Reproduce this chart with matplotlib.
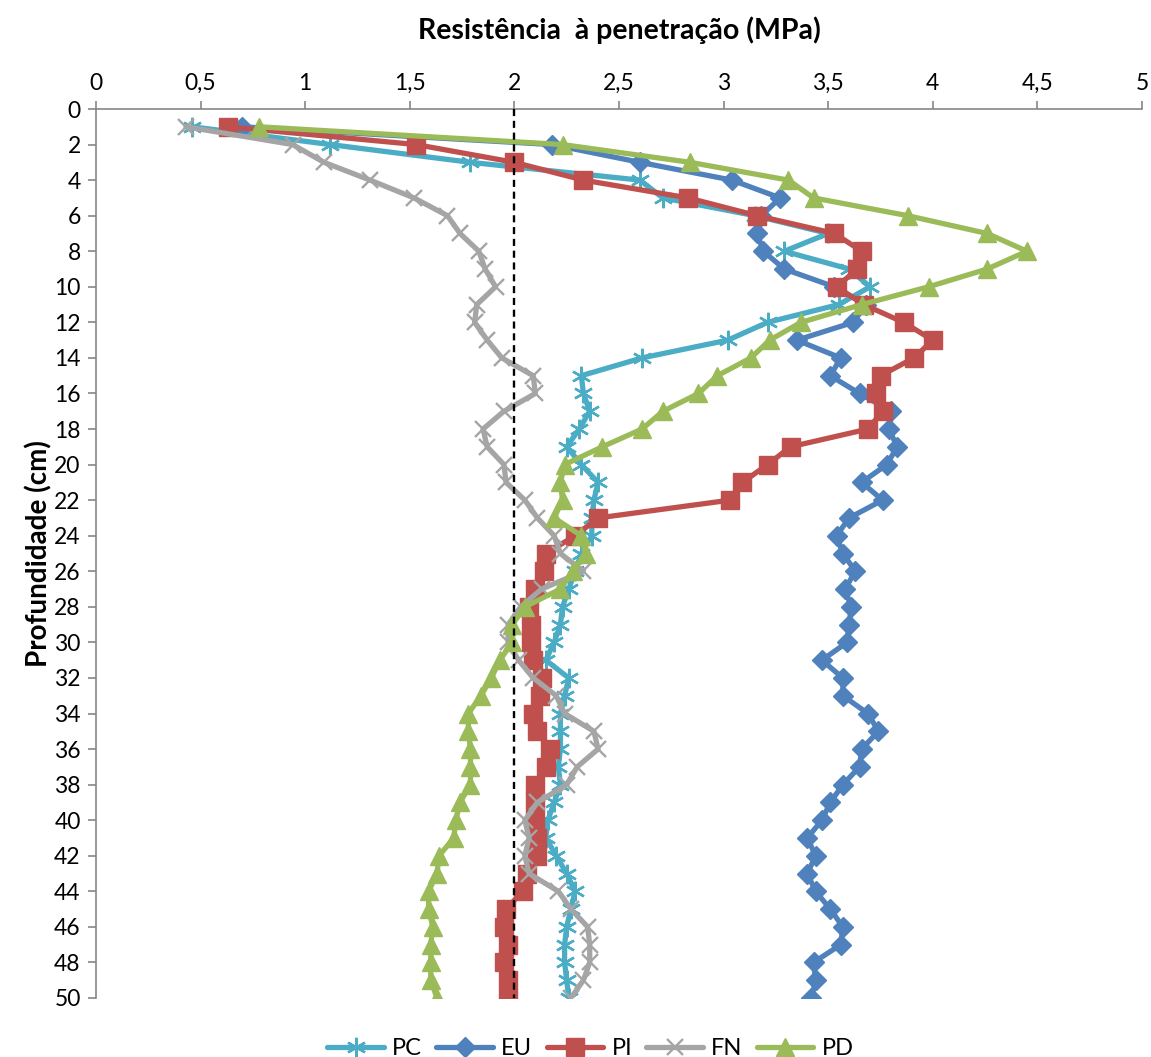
import matplotlib
matplotlib.use("Agg")
import matplotlib.pyplot as plt
from matplotlib.ticker import FixedLocator, FuncFormatter

plt.rcParams['font.family'] = ['Lato', 'DejaVu Sans']

depth = list(range(1, 51))

PC = [0.46, 1.12, 1.79, 2.60, 2.71, 3.15, 3.50, 3.29, 3.60, 3.70,
      3.55, 3.21, 3.02, 2.61, 2.32, 2.33, 2.36, 2.31, 2.25, 2.32,
      2.40, 2.38, 2.37, 2.37, 2.32, 2.29, 2.26, 2.23, 2.22, 2.19,
      2.15, 2.26, 2.24, 2.22, 2.22, 2.22, 2.21, 2.22, 2.19, 2.16,
      2.15, 2.20, 2.25, 2.29, 2.27, 2.25, 2.24, 2.24, 2.25, 2.26]

EU = [0.70, 2.18, 2.60, 3.04, 3.27, 3.18, 3.16, 3.19, 3.29, 3.53,
      3.68, 3.62, 3.35, 3.56, 3.51, 3.65, 3.80, 3.79, 3.83, 3.78,
      3.66, 3.76, 3.60, 3.54, 3.57, 3.63, 3.58, 3.61, 3.60, 3.59,
      3.47, 3.57, 3.57, 3.69, 3.74, 3.66, 3.65, 3.57, 3.51, 3.47,
      3.40, 3.44, 3.40, 3.44, 3.51, 3.57, 3.56, 3.43, 3.44, 3.42]

PI = [0.63, 1.53, 2.00, 2.33, 2.83, 3.16, 3.53, 3.66, 3.64, 3.54,
      3.67, 3.86, 4.00, 3.91, 3.75, 3.73, 3.76, 3.69, 3.32, 3.21,
      3.09, 3.03, 2.40, 2.29, 2.15, 2.14, 2.10, 2.07, 2.08, 2.08,
      2.09, 2.13, 2.12, 2.09, 2.11, 2.17, 2.15, 2.10, 2.10, 2.10,
      2.11, 2.11, 2.06, 2.04, 1.96, 1.95, 1.97, 1.95, 1.97, 1.97]

FN = [0.43, 0.94, 1.09, 1.31, 1.52, 1.68, 1.74, 1.83, 1.86, 1.91,
      1.82, 1.81, 1.87, 1.94, 2.09, 2.10, 1.95, 1.85, 1.87, 1.95,
      1.96, 2.05, 2.11, 2.19, 2.22, 2.33, 2.13, 2.03, 1.97, 1.97,
      2.02, 2.09, 2.20, 2.24, 2.38, 2.40, 2.30, 2.25, 2.11, 2.05,
      2.07, 2.05, 2.07, 2.21, 2.27, 2.35, 2.36, 2.36, 2.33, 2.27]

PD = [0.78, 2.23, 2.84, 3.31, 3.43, 3.88, 4.26, 4.45, 4.26, 3.98,
      3.66, 3.37, 3.22, 3.13, 2.97, 2.88, 2.71, 2.61, 2.42, 2.24,
      2.22, 2.23, 2.19, 2.32, 2.34, 2.28, 2.22, 2.05, 1.99, 1.99,
      1.93, 1.89, 1.84, 1.78, 1.78, 1.79, 1.79, 1.79, 1.74, 1.72,
      1.71, 1.64, 1.63, 1.59, 1.59, 1.61, 1.60, 1.60, 1.60, 1.63]

series_names = ["PC", "EU", "PI", "FN", "PD"]
x_ticks = [0, 0.5, 1, 1.5, 2, 2.5, 3, 3.5, 4, 4.5, 5]
y_ticks = list(range(0, 51, 2))
reference_value = 2

colors = {"PC": "#4BACC6", "EU": "#4F81BD", "PI": "#C0504D",
          "FN": "#A5A5A5", "PD": "#9BBB59"}
styles = {
    "PC": dict(marker=(6, 2, 0), markersize=14, markeredgewidth=1.7),
    "EU": dict(marker="D", markersize=10),
    "PI": dict(marker="s", markersize=13),
    "FN": dict(marker="x", markersize=12, markeredgewidth=1.7),
    "PD": dict(marker="^", markersize=13),
}
data = {"PC": PC, "EU": EU, "PI": PI, "FN": FN, "PD": PD}

fig = plt.figure(figsize=(11.51, 10.57), dpi=100)
ax = fig.add_axes([96/1151, 1 - 998/1057, (1142-96)/1151, (998-109)/1057])

for name in series_names:
    c = colors[name]
    st = styles[name]
    ax.plot(data[name], depth, color=c, lw=3.8, label=name,
            markerfacecolor=c, markeredgecolor=c, solid_joinstyle='round',
            solid_capstyle='round', **st)

ax.plot([reference_value, reference_value], [0, 50], color='black',
        lw=1.7, ls=(0, (3, 2)), zorder=10)

ax.set_xlim(0, 5)
ax.set_ylim(50, 0)
ax.xaxis.set_major_locator(FixedLocator(x_ticks))
ax.yaxis.set_major_locator(FixedLocator(y_ticks))
ax.xaxis.set_major_formatter(FuncFormatter(
    lambda v, p: (f"{v:g}").replace(".", ",")))
ax.xaxis.tick_top()
ax.xaxis.set_label_position('top')
ax.tick_params(axis='both', labelsize=16.5, color='#868686', length=6,
               width=1.2, direction='out', pad=5)
for s in ['right', 'bottom']:
    ax.spines[s].set_visible(False)
for s in ['top', 'left']:
    ax.spines[s].set_color('#868686')
    ax.spines[s].set_linewidth(1.2)

ax.set_xlabel("Resistência  à penetração (MPa)", fontsize=20.5,
              fontweight='bold', labelpad=24)
ax.set_ylabel("Profundidade (cm)", fontsize=20, fontweight='bold',
              labelpad=1)

leg = fig.legend(loc='lower center', ncol=5, frameon=False, fontsize=17,
                 bbox_to_anchor=(0.513, -0.022), handlelength=2.4,
                 columnspacing=0.6, handletextpad=0.35)

fig.savefig("out.png", dpi=100)
